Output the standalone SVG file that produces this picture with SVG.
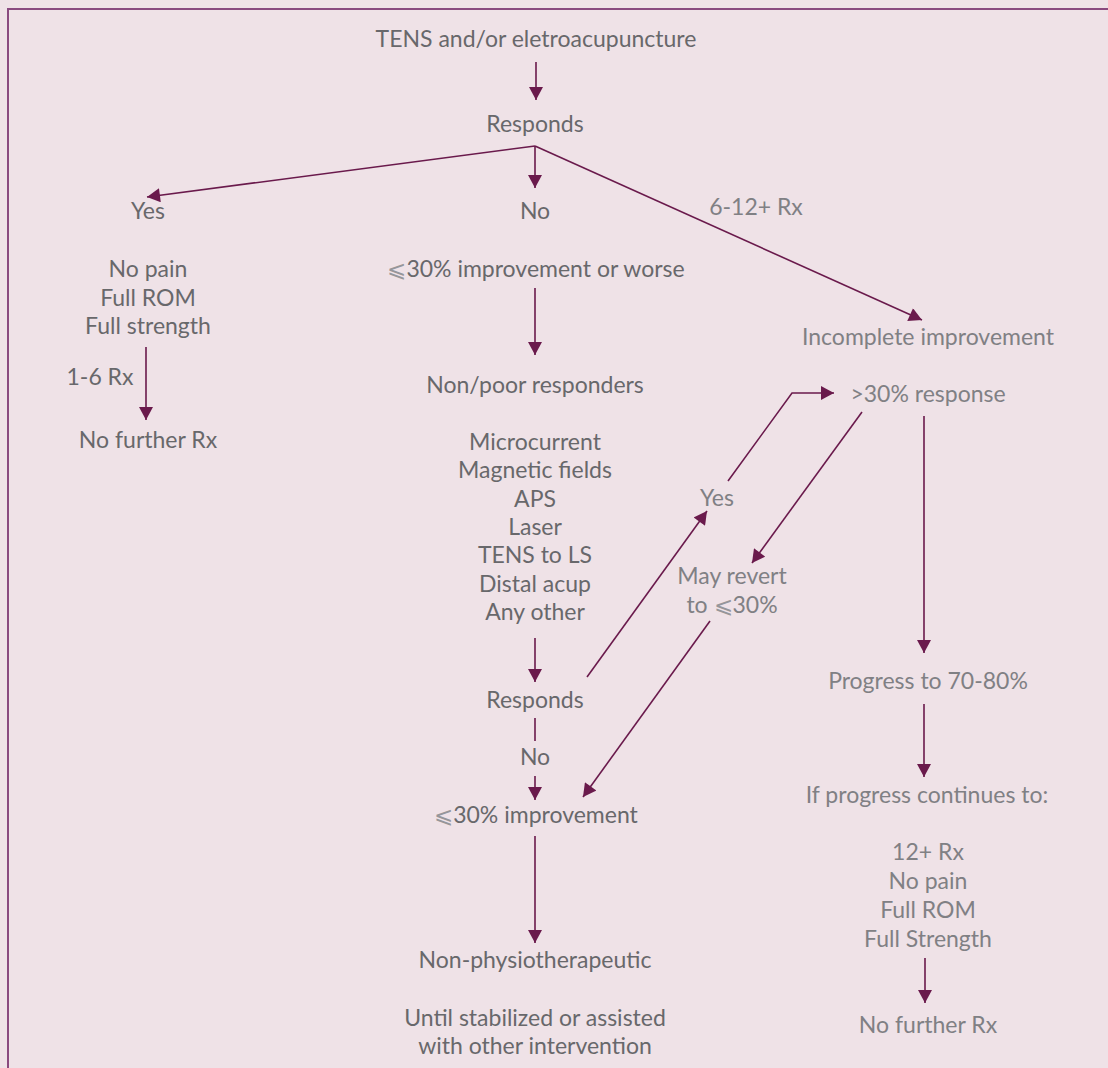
<svg xmlns="http://www.w3.org/2000/svg" width="1108" height="1068" viewBox="0 0 1108 1068">
<style>
text{font-family:Lato,"Open Sans","DejaVu Sans",sans-serif;font-size:23px;text-anchor:middle;fill:#68686b}
.lt{fill:#808084}
.sym{font-family:"DejaVu Sans",sans-serif;font-weight:200;fill:#96969a}
.c{stroke:#6a1a4c;stroke-width:1.6;fill:none}
</style>
<defs>
<marker id="ah" markerUnits="userSpaceOnUse" markerWidth="14" markerHeight="14" viewBox="0 0 13 14" refX="13" refY="7" orient="auto"><path d="M0,0 L13,7 L0,14 z" fill="#6a1a4c"/></marker>
</defs>
<rect x="0" y="0" width="1108" height="1068" fill="#efe2e7"/>
<path d="M8,1068 V9 H1108" fill="none" stroke="#8a4a7f" stroke-width="2"/>
<g id="connectors">
<line class="c" x1="536" y1="62" x2="536" y2="100" marker-end="url(#ah)"/>
<line class="c" x1="535" y1="146" x2="147" y2="197" marker-end="url(#ah)"/>
<line class="c" x1="535" y1="146" x2="535" y2="188" marker-end="url(#ah)"/>
<line class="c" x1="535" y1="146" x2="922" y2="320" marker-end="url(#ah)"/>
<line class="c" x1="146" y1="347" x2="146" y2="420" marker-end="url(#ah)"/>
<line class="c" x1="535" y1="288" x2="535" y2="355" marker-end="url(#ah)"/>
<line class="c" x1="535" y1="638" x2="535" y2="682" marker-end="url(#ah)"/>
<line class="c" x1="535" y1="718" x2="535" y2="741"/>
<line class="c" x1="535" y1="776" x2="535" y2="800" marker-end="url(#ah)"/>
<line class="c" x1="535" y1="836" x2="535" y2="943" marker-end="url(#ah)"/>
<line class="c" x1="587" y1="677" x2="707" y2="511" marker-end="url(#ah)"/>
<polyline class="c" points="728,481 792,393 834,393" marker-end="url(#ah)"/>
<line class="c" x1="862" y1="412" x2="752" y2="563" marker-end="url(#ah)"/>
<line class="c" x1="710" y1="621" x2="583" y2="797" marker-end="url(#ah)"/>
<line class="c" x1="924" y1="416" x2="924" y2="653" marker-end="url(#ah)"/>
<line class="c" x1="924" y1="704" x2="924" y2="777" marker-end="url(#ah)"/>
<line class="c" x1="925" y1="958" x2="925" y2="1003" marker-end="url(#ah)"/>
</g>
<g id="n-start"><text x="536" y="47">TENS and/or eletroacupuncture</text></g>
<g id="n-responds1"><text x="535" y="132">Responds</text></g>
<g id="n-yes1"><text x="148" y="219">Yes</text></g>
<g id="n-no1"><text x="535" y="219">No</text></g>
<g id="l-6-12"><text class="lt" x="756" y="215">6-12+ Rx</text></g>
<g id="n-fullrec"><text x="148" y="277">No pain</text><text x="148" y="306">Full ROM</text><text x="148" y="334">Full strength</text></g>
<g id="l-1-6"><text x="100" y="385">1-6 Rx</text></g>
<g id="n-nofurther1"><text x="148" y="448">No further Rx</text></g>
<g id="n-le30worse"><text x="536" y="277"><tspan class="sym">⩽</tspan>30% improvement or worse</text></g>
<g id="n-nonpoor"><text x="535" y="393">Non/poor responders</text></g>
<g id="n-list"><text x="535" y="450">Microcurrent</text><text x="535" y="478">Magnetic fields</text><text x="535" y="507">APS</text><text x="535" y="535">Laser</text><text x="535" y="563">TENS to LS</text><text x="535" y="592">Distal acup</text><text x="535" y="620">Any other</text></g>
<g id="n-responds2"><text x="535" y="708">Responds</text></g>
<g id="l-no2"><text x="535" y="765">No</text></g>
<g id="n-le30"><text x="536" y="823"><tspan class="sym">⩽</tspan>30% improvement</text></g>
<g id="n-nonphysio"><text x="535" y="968">Non-physiotherapeutic</text></g>
<g id="n-until"><text x="535" y="1026">Until stabilized or assisted</text><text x="535" y="1054">with other intervention</text></g>
<g id="n-incomplete"><text class="lt" x="928" y="345">Incomplete improvement</text></g>
<g id="n-gt30"><text class="lt" x="928" y="402">&gt;30% response</text></g>
<g id="l-yes2"><text class="lt" x="717" y="506">Yes</text></g>
<g id="l-revert"><text class="lt" x="732" y="584">May revert</text><text class="lt" x="732" y="613">to <tspan class="sym">⩽</tspan>30%</text></g>
<g id="n-progress"><text class="lt" x="928" y="689">Progress to 70-80%</text></g>
<g id="n-ifprogress"><text class="lt" x="927" y="803">If progress continues to:</text></g>
<g id="n-fullrec2"><text class="lt" x="928" y="860">12+ Rx</text><text class="lt" x="928" y="889">No pain</text><text class="lt" x="928" y="918">Full ROM</text><text class="lt" x="928" y="947">Full Strength</text></g>
<g id="n-nofurther2"><text class="lt" x="928" y="1033">No further Rx</text></g>
</svg>
